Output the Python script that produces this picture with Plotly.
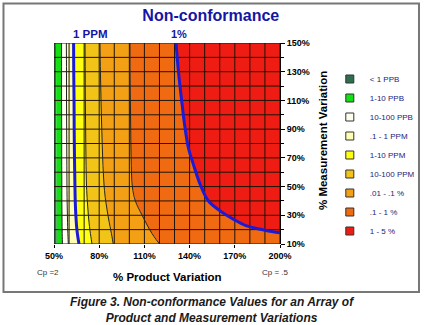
import plotly.graph_objects as go

# ---------------- data ----------------
band_labels = ["< 1 PPB", "1-10 PPB", "10-100 PPB", ".1 - 1 PPM", "1-10 PPM",
               "10-100 PPM", ".01 - .1 %", ".1 - 1 %", "1 - 5 %"]
band_colors = ["#2f6e4e", "#12e012", "#fffff0", "#ffffb4", "#ffff10",
               "#f2c418", "#f3a014", "#f06a12", "#ee1c12"]

# measurement-variation levels (%) at which the contour boundaries were read
mv_levels = [10, 15, 20, 30, 40, 50, 70, 90, 110, 130, 150]
# product-variation (%) of each contour boundary at those levels
pv_1ppb = [51.8, 51.8, 51.7, 51.6, 51.5, 51.5, 51.4, 51.4, 51.3, 51.3, 51.3]
pv_10ppb = [55.6, 55.5, 55.4, 55.3, 55.2, 55.2, 55.1, 55.1, 55.0, 55.0, 55.0]
pv_100ppb = [59.5, 59.3, 59.1, 58.9, 58.7, 58.6, 58.5, 58.4, 58.3, 58.3, 58.2]
pv_1ppm = [66.6, 65.8, 65.2, 64.5, 64.1, 63.9, 63.6, 63.4, 63.3, 63.1, 63.0]
pv_10ppm = [75.2, 74.5, 73.8, 72.8, 72.1, 71.6, 71.2, 71.0, 70.8, 70.7, 70.6]
pv_100ppm = [89.3, 88.5, 87.6, 85.8, 84.3, 83.3, 82.3, 81.7, 81.2, 80.8, 80.5]
pv_01pct = [120.0, 116.5, 113.5, 108.5, 104.0, 102.0, 101.2, 100.9, 100.7, 100.5, 100.4]
# the 1 % boundary (read separately)
pv_1pct = [200.0, 192.2, 186.8, 177.9, 169.0, 160.2, 152.4, 146.9, 142.4, 139.1, 136.9, 134.7, 132.5, 131.0]
mv_1pct = [17.9, 19.1, 20.3, 22.6, 27.3, 33.1, 40.1, 51.8, 65.8, 77.4, 91.4, 110.1, 131.1, 150.0]

x_ticks = [50, 80, 110, 140, 170, 200]
y_ticks = [10, 30, 50, 70, 90, 110, 130, 150]
X_MIN, X_MAX, Y_MIN, Y_MAX = 50, 200, 10, 150
GRID_STEP = 10

# ---------------- build ----------------
def edge(xv):
    return ([xv, xv], [Y_MIN, Y_MAX])

def closed(pv, mv):
    pv, mv = list(pv), list(mv)
    if mv[0] > Y_MIN:
        pv = [X_MAX] + pv
        mv = [Y_MIN] + mv
    if mv[-1] < Y_MAX:
        pv = pv + [pv[-1]]
        mv = mv + [Y_MAX]
    return pv, mv

boundaries = [edge(X_MIN)] + [closed(b, mv_levels) for b in
              [pv_1ppb, pv_10ppb, pv_100ppb, pv_1ppm, pv_10ppm, pv_100ppm, pv_01pct]] \
             + [closed(pv_1pct, mv_1pct), edge(X_MAX)]

fig = go.Figure()
for i, col in enumerate(band_colors):
    lx, ly = boundaries[i]
    rx, ry = boundaries[i + 1]
    fig.add_trace(go.Scatter(x=lx + rx[::-1], y=ly + ry[::-1], fill="toself",
                             fillcolor=col, mode="lines", line=dict(width=0, color=col),
                             showlegend=False, hoverinfo="skip"))

# grid lines (drawn above the fills)
gx, gy = [], []
for xv in range(X_MIN, X_MAX + 1, GRID_STEP):
    gx += [xv, xv, None]
    gy += [Y_MIN, Y_MAX, None]
for yv in range(Y_MIN, Y_MAX + 1, GRID_STEP):
    gx += [X_MIN, X_MAX, None]
    gy += [yv, yv, None]
fig.add_trace(go.Scatter(x=gx, y=gy, mode="lines", line=dict(color="#1e1408", width=1),
                         showlegend=False, hoverinfo="skip"))

# thin contour lines
for b in [pv_10ppb, pv_100ppb, pv_10ppm, pv_100ppm, pv_01pct]:
    fig.add_trace(go.Scatter(x=b, y=mv_levels, mode="lines", line=dict(color="#222", width=1, shape="spline"),
                             showlegend=False, hoverinfo="skip"))
# blue highlighted contours
fig.add_trace(go.Scatter(x=pv_1ppm, y=mv_levels, mode="lines", line=dict(color="#1a1ad8", width=3, shape="spline"),
                         showlegend=False, hoverinfo="skip"))
fig.add_trace(go.Scatter(x=pv_1pct, y=mv_1pct, mode="lines", line=dict(color="#1a1ad8", width=3, shape="spline"),
                         showlegend=False, hoverinfo="skip"))

# legend entries
for i, (lab, col) in enumerate(zip(band_labels, band_colors)):
    fig.add_trace(go.Scatter(x=[None], y=[None], mode="markers", name=lab, legendgroup=str(i),
                             marker=dict(symbol="square", size=8, color=col, line=dict(color="#333", width=1))))

FONT = "Liberation Sans, Arial, sans-serif"
fig.update_layout(
    width=425, height=325,
    margin=dict(l=54, r=145, t=43, b=81, autoexpand=False),
    paper_bgcolor="white", plot_bgcolor="white",
    font=dict(family=FONT, color="black"),
    title=dict(text="<b>Non-conformance</b>", x=0.496, y=0.954, xanchor="center", yanchor="middle",
               font=dict(size=16, color="#1515a5", family=FONT)),
    xaxis=dict(range=[X_MIN, X_MAX], tickvals=x_ticks, ticktext=[f"{v}%" for v in x_ticks],
               showgrid=False, zeroline=False, ticks="outside", ticklen=3, tickcolor="black",
               tickfont=dict(size=9, family=FONT, weight="bold"), showline=False, automargin=False),
    yaxis=dict(range=[Y_MIN, Y_MAX], side="right", tickvals=y_ticks, ticktext=[f"{v}%" for v in y_ticks],
               showgrid=False, zeroline=False, ticks="outside", ticklen=4, tickcolor="black",
               minor=dict(tickvals=list(range(Y_MIN, Y_MAX + 1, GRID_STEP)), ticks="outside", ticklen=3, tickcolor="black"),
               tickfont=dict(size=9, family=FONT, weight="bold"), showline=True, linecolor="black", linewidth=1,
               automargin=False),
    legend=dict(xref="container", yref="container", x=0.776, y=0.8015, xanchor="left", yanchor="top",
                traceorder="grouped", tracegroupgap=0, maxheight=300,
                font=dict(size=8, color="#1c1c78", family=FONT), bgcolor="rgba(0,0,0,0)", itemwidth=30),
    showlegend=True,
)

def note(text, x, y, size, color="black", xref="paper", **kw):
    fig.add_annotation(text=text, x=x, y=y, xref=xref, yref="paper", xanchor=kw.pop("xanchor", "center"),
                       yanchor="middle", showarrow=False, font=dict(size=size, color=color, family=FONT), **kw)

note("<b>1 PPM</b>", pv_1ppm[-1], 1.045, 11.5, "#1515a5", xref="x", xanchor="left", xshift=-3)
note("<b>1%</b>", pv_1pct[-1], 1.045, 11, "#1515a5", xref="x", xshift=3)
note("<b>% Product Variation</b>", 0.5, -0.164, 11.5)
note("<b>% Measurement Variation</b>", 1.19, 0.517, 11.5, textangle=-90)
note("Cp =2", -0.027, -0.144, 8, "#333")
note("Cp = .5", 0.982, -0.144, 8, "#333")
note("<b><i>Figure 3. Non-conformance Values for an Array of<br>Product and Measurement Variations</i></b>",
     0.699, -0.328, 12, "#1a1a1a")
fig.add_shape(type="rect", xref="paper", yref="paper", x0=-0.2235, x1=1.615, y0=-0.2388, y1=1.1965,
              line=dict(color="#777", width=2), layer="above")

fig.write_html("out.html")
